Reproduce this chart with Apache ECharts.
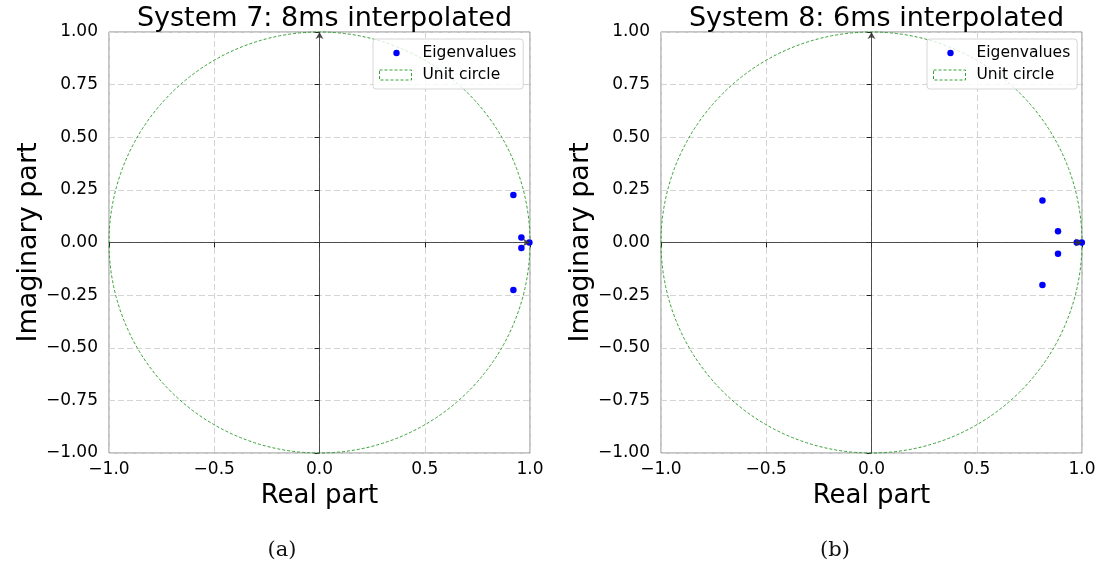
<!DOCTYPE html>
<html>
<head>
	<meta charset="utf-8">
	<title>Eigenvalues</title>
	<script src="https://cdn.jsdelivr.net/npm/echarts@6/dist/echarts.min.js"></script>
	<style type="text/css">
		body { margin: 0; background: #fff; }
		#box { width: 1104px; height: 565px; }
	</style>
</head>
<body>
	<div id="box"></div>
</body>

<script type="text/javascript">
	// eigenvalues: [real, imag]
	var eigSys7 = [[0.921, 0.226], [0.921, -0.226], [0.959, 0.024], [0.959, -0.026], [0.997, 0.0]];
	var eigSys8 = [[0.812, 0.199], [0.812, -0.202], [0.886, 0.053], [0.886, -0.054], [0.975, 0.0], [0.999, 0.0]];
	// unit circle: centre x, centre y, radius
	var unitCircle = [[0, 0, 1]];
	var titles = ['System 7: 8ms interpolated', 'System 8: 6ms interpolated'];
	var captions = ['(a)', '(b)'];

	var FONT = 'DejaVu Sans';
	var GREEN = '#35a035';
	var gridLeft = [109, 661];
	var chart = echarts.init(document.getElementById('box'));

	function minus(v, d) {
		return v.toFixed(d).replace('-', '\u2212');
	}

	var option = {
		backgroundColor: '#fff',
		animation: false,
		title: [],
		legend: [],
		grid: [],
		xAxis: [],
		yAxis: [],
		series: []
	};

	[eigSys7, eigSys8].forEach(function (eig, i) {
		var L = gridLeft[i];
		option.grid.push({
			left: L, top: 32, width: 421, height: 421,
			show: true, borderColor: '#888', borderWidth: 1, backgroundColor: 'transparent'
		});
		option.title.push({
			text: titles[i], left: L + 210.5, top: 0, textAlign: 'center',
			textStyle: { fontFamily: FONT, fontSize: 27, fontWeight: 'normal', color: '#000' }
		});
		option.title.push({
			text: captions[i], left: i == 0 ? 277 : 830, top: 535, textAlign: 'center',
			textStyle: { fontFamily: 'DejaVu Serif', fontSize: 21, fontWeight: 'normal', color: '#111' }
		});
		// legend icons: small dot / dashed box inside a 38x10 cell
		option.legend.push({
			left: i == 0 ? 373 : 927, top: 39,
			orient: 'vertical',
			padding: [6, 7, 6, 6],
			itemGap: 6,
			itemWidth: 38, itemHeight: 10,
			backgroundColor: 'rgba(255,255,255,0.8)',
			borderColor: '#d6d6d6', borderWidth: 1, borderRadius: 3,
			textStyle: { fontFamily: FONT, fontSize: 15.5, color: '#000' },
			selectedMode: false,
			data: [
				{ name: 'Eigenvalues', icon: 'path://M0,0 M38,10 M13.8,5 A3.2,3.2 0 1 0 20.2,5 A3.2,3.2 0 1 0 13.8,5 Z',
				  itemStyle: { color: '#0000ff' } },
				{ name: 'Unit circle', icon: 'path://M0,0 L32,0 L32,10 L0,10 Z M38,10',
				  itemStyle: { color: '#fff', borderColor: GREEN, borderWidth: 1, borderType: [3, 2] } }
			]
		});
		option.xAxis.push({
			type: 'value', gridIndex: i, min: -1, max: 1, interval: 0.5,
			name: 'Real part', nameLocation: 'middle', nameGap: 30,
			nameTextStyle: { fontFamily: FONT, fontSize: 26, color: '#000' },
			axisLine: { show: false },
			axisTick: { show: true, length: 5, lineStyle: { color: '#222' } },
			axisLabel: { fontFamily: FONT, fontSize: 17, color: '#000', margin: 8,
				formatter: function (v) { return minus(v, 1); } },
			splitLine: { show: true, lineStyle: { color: '#d4d4d4', type: [6, 3] } }
		});
		option.yAxis.push({
			type: 'value', gridIndex: i, min: -1, max: 1, interval: 0.25,
			name: 'Imaginary part', nameLocation: 'middle', nameGap: 64,
			nameTextStyle: { fontFamily: FONT, fontSize: 27, color: '#000' },
			axisLine: { show: false },
			axisTick: { show: true, length: 5, lineStyle: { color: '#222' } },
			axisLabel: { fontFamily: FONT, fontSize: 17, color: '#000', margin: 11, padding: [4, 0, 0, 0],
				formatter: function (v) { return minus(v, 2); } },
			splitLine: { show: true, lineStyle: { color: '#d4d4d4', type: [6, 3] } }
		});
		option.series.push({
			name: 'Unit circle', type: 'custom', xAxisIndex: i, yAxisIndex: i,
			data: unitCircle, z: 2, silent: true,
			itemStyle: { color: '#fff', borderColor: GREEN, borderWidth: 1, borderType: [3, 2] },
			renderItem: function (params, api) {
				var c = api.coord([api.value(0), api.value(1)]);
				var r = api.size([api.value(2), 0])[0];
				return {
					type: 'circle',
					shape: { cx: c[0], cy: c[1], r: r },
					style: { fill: 'none', stroke: GREEN, lineWidth: 1, lineDash: [3, 2] }
				};
			}
		});
		option.series.push({
			name: 'Eigenvalues', type: 'scatter', xAxisIndex: i, yAxisIndex: i,
			data: eig, symbolSize: 6.5, z: 3,
			itemStyle: { color: '#0000ff', opacity: 1 },
			markLine: {
				silent: true,
				symbol: ['none', 'arrow'], symbolSize: [6, 7],
				label: { show: false },
				lineStyle: { color: '#333', width: 1, type: 'solid', opacity: 0.85 },
				data: [
					[{ coord: [-1, 0] }, { coord: [1, 0] }],
					[{ coord: [0, -1] }, { coord: [0, 1] }]
				]
			}
		});
	});

	chart.setOption(option);
</script>
</html>
